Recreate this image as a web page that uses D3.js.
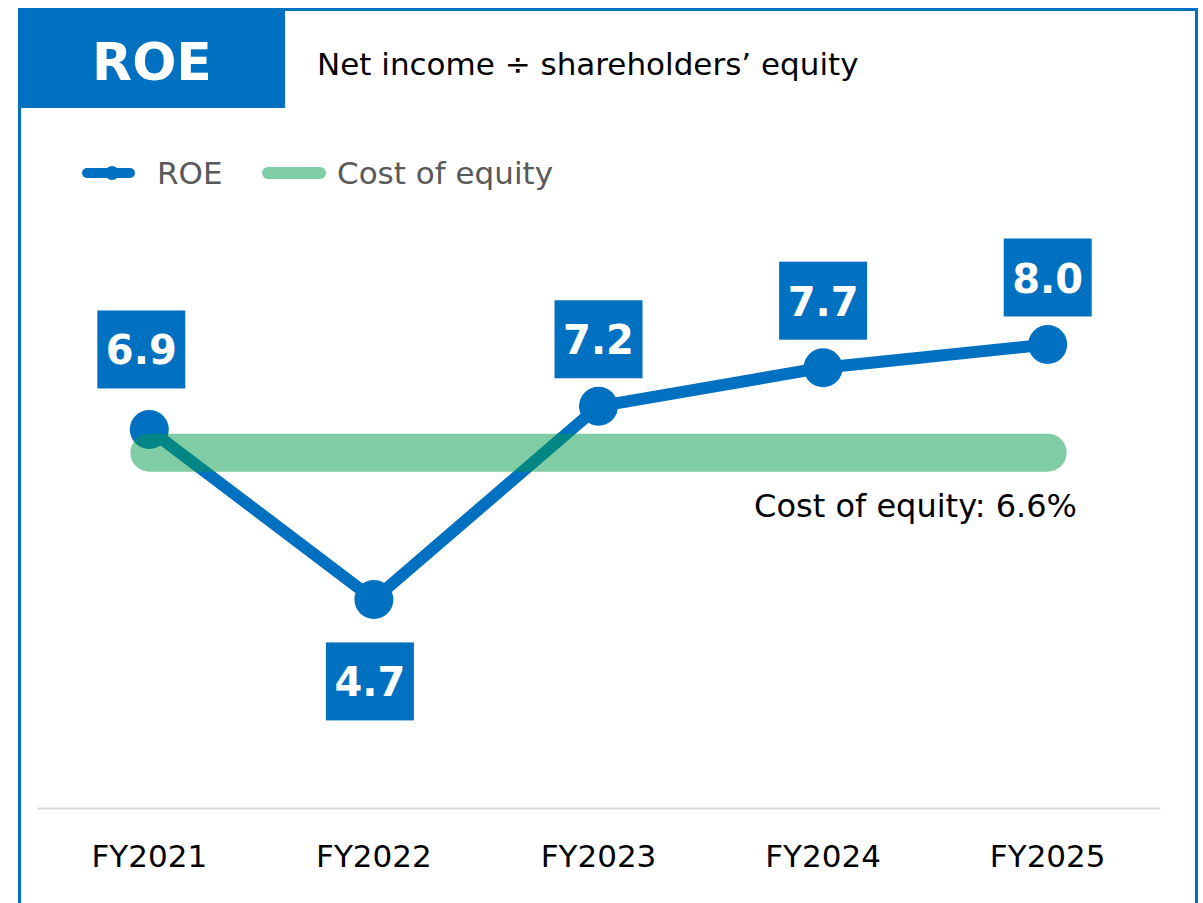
<!DOCTYPE html>
<html><head><meta charset="utf-8">
<script src="https://cdn.jsdelivr.net/npm/d3@7"></script>
<style>html,body{margin:0;padding:0;background:#fff}svg{display:block}</style>
</head><body>
<script>
const categories = ["FY2021","FY2022","FY2023","FY2024","FY2025"];
const roeValues = [6.9, 4.7, 7.2, 7.7, 8.0];
const costOfEquity = 6.6;
const labelSide = ["above","below","above","above","above"];
const labelNudge = [[-8,-13],[-4,0],[0,0],[0,0],[0,0]];
const titleText = "ROE";
const subtitleText = "Net income \u00F7 shareholders\u2019 equity";
const legendLabels = ["ROE","Cost of equity"];
const costLabel = "Cost of equity: 6.6%";

const W=1203,H=903;
const blue="#0070C0", green="#019949";
const font="'DejaVu Sans', Verdana, sans-serif";
const svg=d3.select("body").append("svg").attr("width",W).attr("height",H);

// frame
svg.append("rect").attr("x",19.5).attr("y",9.5).attr("width",1177).attr("height",930)
  .attr("fill","none").attr("stroke",blue).attr("stroke-width",3);
svg.append("rect").attr("x",18).attr("y",8).attr("width",267).attr("height",100).attr("fill",blue);
svg.append("text").attr("x",152).attr("y",62).attr("text-anchor","middle").attr("dominant-baseline","central")
  .attr("fill","#fff").attr("font-family",font).attr("font-weight","bold").attr("font-size",52).text(titleText);
svg.append("text").attr("x",317).attr("y",64).attr("dominant-baseline","central")
  .attr("fill","#000").attr("font-family",font).attr("font-size",31).text(subtitleText);

// legend
const lg=svg.append("g");
lg.append("line").attr("x1",87).attr("x2",130).attr("y1",173).attr("y2",173).attr("stroke",blue).attr("stroke-width",10).attr("stroke-linecap","round");
lg.append("circle").attr("cx",112).attr("cy",173).attr("r",7).attr("fill",blue);
lg.append("text").attr("x",157).attr("y",173).attr("dominant-baseline","central").attr("fill","#595959")
  .attr("font-family",font).attr("font-size",31).text(legendLabels[0]);
lg.append("line").attr("x1",268).attr("x2",320).attr("y1",173).attr("y2",173).attr("stroke","#80CCA4").attr("stroke-width",12).attr("stroke-linecap","round");
lg.append("text").attr("x",337).attr("y",173).attr("dominant-baseline","central").attr("fill","#595959")
  .attr("font-family",font).attr("font-size",31).text(legendLabels[1]);

// scales
const x=d3.scaleBand().domain(categories).range([37,1160]);
const y=d3.scaleLinear().domain([2,10]).range([808,190]);
const cx=d=>x(d)+x.bandwidth()/2;

// baseline axis
const ax=svg.append("g").attr("transform","translate(0,808)")
  .call(d3.axisBottom(x).tickSize(0).tickPadding(0));
ax.select(".domain").attr("stroke","#d9d9d9").attr("stroke-width",2);
ax.selectAll("text").attr("font-family",font).attr("font-size",31).attr("fill","#000")
  .attr("dy",null).attr("y",48).attr("dominant-baseline","central");

// ROE line
const pts=categories.map((c,i)=>[cx(c),y(roeValues[i])]);
svg.append("path").attr("d",d3.line()(pts)).attr("fill","none").attr("stroke",blue).attr("stroke-width",12).attr("stroke-linejoin","round");
svg.selectAll("circle.pt").data(pts).enter().append("circle").attr("class","pt")
  .attr("cx",d=>d[0]).attr("cy",d=>d[1]).attr("r",19.5).attr("fill",blue);

// cost of equity line
svg.append("line").attr("x1",cx(categories[0])).attr("x2",cx(categories[categories.length-1]))
  .attr("y1",y(costOfEquity)).attr("y2",y(costOfEquity))
  .attr("stroke",green).attr("stroke-opacity",0.5).attr("stroke-width",38).attr("stroke-linecap","round");
svg.append("text").attr("x",1077).attr("y",y(costOfEquity)+53).attr("text-anchor","end").attr("dominant-baseline","central")
  .attr("font-family",font).attr("font-size",32).attr("fill","#000").text(costLabel);

// value labels
const bw=88,bh=78;
categories.forEach((c,i)=>{
  const px=cx(c)+labelNudge[i][0], py=y(roeValues[i]);
  const top = labelSide[i]==="above" ? py-28-bh+labelNudge[i][1] : py+43+labelNudge[i][1];
  const g=svg.append("g");
  g.append("rect").attr("x",px-bw/2).attr("y",top).attr("width",bw).attr("height",bh).attr("fill",blue);
  g.append("text").attr("x",px).attr("y",top+bh/2+1).attr("text-anchor","middle").attr("dominant-baseline","central")
    .attr("fill","#fff").attr("font-family",font).attr("font-weight","bold").attr("font-size",40).text(roeValues[i].toFixed(1));
});
</script>
</body></html>
